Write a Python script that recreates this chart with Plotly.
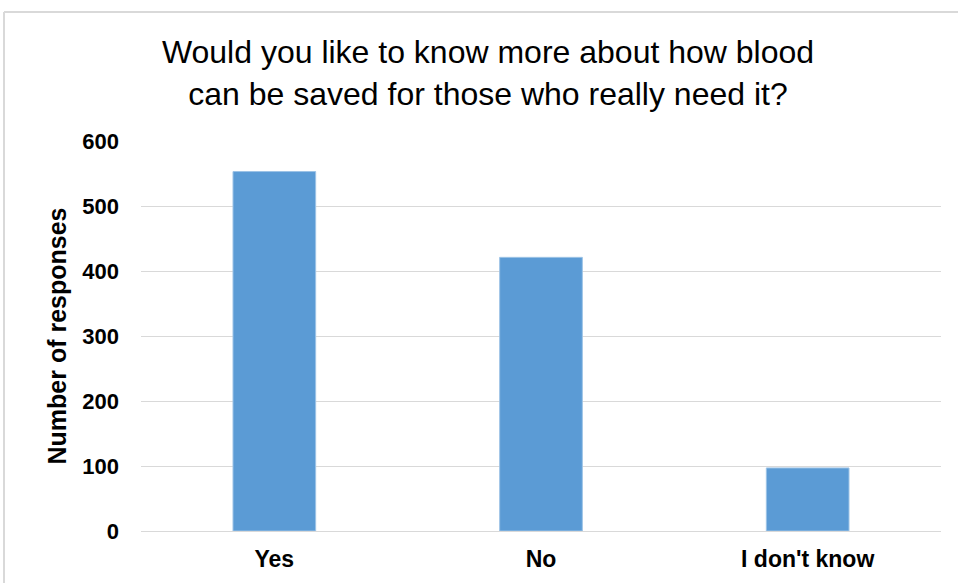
import plotly.graph_objects as go

categories = ["Yes", "No", "I don't know"]
responses = [553, 421, 97]
y_ticks = [0, 100, 200, 300, 400, 500, 600]

FONT = "Liberation Sans, Arial, sans-serif"

fig = go.Figure()
fig.add_trace(go.Bar(
    x=categories, y=responses,
    marker=dict(color="#5B9BD5", line=dict(color="#9DC3E6", width=1)),
))

W, H = 958, 583
ml, mr, mt, mb = 141, 17, 141, 52
pw, ph = W - ml - mr, H - mt - mb

def px_x(x):
    return (x - ml) / pw

def px_y(y):
    return (H - mb - y) / ph

fig.update_layout(
    width=W, height=H,
    margin=dict(l=ml, r=mr, t=mt, b=mb),
    paper_bgcolor="white", plot_bgcolor="white",
    bargap=0.69,
    showlegend=False,
    font=dict(family=FONT, color="#000000"),
    title=dict(
        text="Would you like to know more about how blood<br>can be saved for those who really need it?",
        x=px_x(488), xref="paper", xanchor="center",
        y=1 - 63 / H, yanchor="top",
        font=dict(size=32, color="#000000", family=FONT),
    ),
    xaxis=dict(
        showgrid=False, showline=False, ticks="",
        tickfont=dict(size=23, color="#000000", family=FONT, weight="bold"),
        ticklabelstandoff=12,
    ),
    yaxis=dict(
        range=[0, 600], tickvals=y_ticks,
        showgrid=True, gridcolor="#D9D9D9", gridwidth=1,
        zeroline=True, zerolinecolor="#D9D9D9", zerolinewidth=1,
        showline=False, ticks="",
        tickfont=dict(size=22, color="#000000", family=FONT, weight="bold"),
        ticklabelstandoff=21,
        title=dict(text="Number of responses", standoff=8,
                   font=dict(size=25, color="#000000", family=FONT, weight="bold")),
    ),
    shapes=[
        dict(type="line", xref="paper", yref="paper",
             x0=px_x(4), x1=px_x(958), y0=px_y(12), y1=px_y(12),
             line=dict(color="#D9D9D9", width=2), layer="below"),
        dict(type="line", xref="paper", yref="paper",
             x0=px_x(4), x1=px_x(4), y0=px_y(12), y1=px_y(583),
             line=dict(color="#D9D9D9", width=2), layer="below"),
    ],
)

fig.write_html("out.html", config={"displayModeBar": False},
               post_script="document.body.style.margin='0px';document.body.style.overflow='hidden';")
